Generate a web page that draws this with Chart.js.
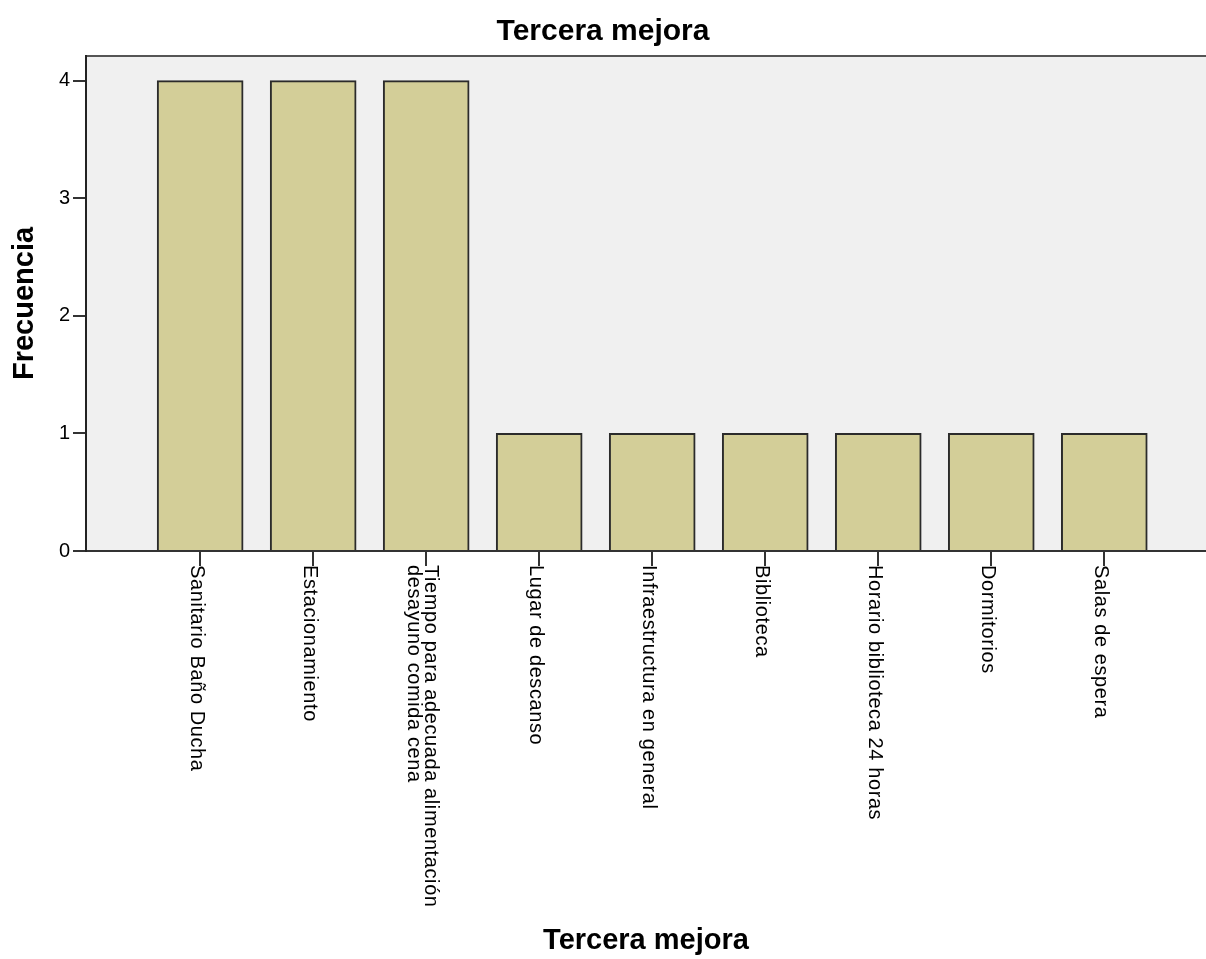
<!DOCTYPE html>
<html>
<head>
<meta charset="utf-8">
<title>Tercera mejora</title>
<script src="https://cdn.jsdelivr.net/npm/chart.js@4/dist/chart.umd.min.js"></script>
<style>
  html, body { margin: 0; padding: 0; background: #fff; }
  canvas { display: block; }
</style>
</head>
<body>
<canvas id="chart" width="1206" height="959"></canvas>
<script>
const categories = [
    ['Sanitario Baño Ducha'],
    ['Estacionamiento'],
    ['Tiempo para adecuada alimentación', 'desayuno comida cena'],
    ['Lugar de descanso'],
    ['Infraestructura en general'],
    ['Biblioteca'],
    ['Horario biblioteca 24 horas'],
    ['Dormitorios'],
    ['Salas de espera']
];
const counts = [4, 4, 4, 1, 1, 1, 1, 1, 1];
const yTicks = [0, 1, 2, 3, 4];

const FONT = '"Liberation Sans", Arial, sans-serif';

// gray plot background + top frame line
const plotBackground = {
    id: 'plotBackground',
    beforeDraw(chart) {
        const { ctx, chartArea } = chart;
        ctx.save();
        ctx.fillStyle = '#f0f0f0';
        ctx.fillRect(chartArea.left, chartArea.top, chartArea.right - chartArea.left, chartArea.bottom - chartArea.top);
        ctx.strokeStyle = '#555';
        ctx.lineWidth = 2;
        ctx.beginPath();
        ctx.moveTo(chartArea.left, chartArea.top);
        ctx.lineTo(chartArea.right, chartArea.top);
        ctx.stroke();
        ctx.restore();
    }
};

// category names, rotated clockwise under each tick
const rotatedLabels = {
    id: 'rotatedLabels',
    afterDraw(chart) {
        const { ctx, chartArea } = chart;
        const xScale = chart.scales.x;
        ctx.save();
        ctx.fillStyle = '#000';
        ctx.font = '20px ' + FONT;
        ctx.letterSpacing = '0.6px';
        ctx.textAlign = 'left';
        ctx.textBaseline = 'middle';
        categories.forEach((lines, i) => {
            const x = xScale.getPixelForValue(i);
            ctx.save();
            ctx.translate(x, chartArea.bottom + 14);
            ctx.rotate(Math.PI / 2);
            lines.forEach((line, j) => {
                ctx.fillText(line, 0, 4 + (j - (lines.length - 1) / 2) * 17);
            });
            ctx.restore();
        });
        ctx.restore();
    }
};

new Chart(document.getElementById('chart'), {
    type: 'bar',
    data: {
        datasets: [{
            data: counts.map((v, i) => ({ x: i, y: v })),
            backgroundColor: '#d3ce98',
            borderColor: '#2b2b2b',
            borderWidth: 2,
            barThickness: 86
        }]
    },
    options: {
        responsive: false,
        animation: false,
        devicePixelRatio: 1,
        layout: { padding: 0 },
        plugins: {
            legend: { display: false },
            tooltip: { enabled: false },
            title: {
                display: true,
                text: 'Tercera mejora',
                color: '#000',
                font: { family: FONT, size: 30, weight: 'bold' },
                padding: { top: 14, bottom: 6 }
            }
        },
        scales: {
            x: {
                type: 'linear',
                offset: false,
                min: -1.01,
                max: 8.9,
                afterBuildTicks: s => { s.ticks = categories.map((_, i) => ({ value: i })); },
                afterFit: s => { s.height = 408; },
                ticks: { display: false },
                grid: {
                    offset: false,
                    drawOnChartArea: false,
                    drawTicks: true,
                    tickLength: 15,
                    color: '#333',
                    lineWidth: 2
                },
                border: { display: true, color: '#333', width: 2 },
                title: {
                    display: true,
                    text: 'Tercera mejora',
                    color: '#000',
                    font: { family: FONT, size: 29, weight: 'bold' },
                    padding: { top: 0, bottom: 1 }
                }
            },
            y: {
                min: 0,
                max: 4.21,
                afterBuildTicks: s => { s.ticks = yTicks.map(v => ({ value: v })); },
                afterFit: s => { s.width = 86; },
                ticks: {
                    color: '#000',
                    font: { family: FONT, size: 20 },
                    padding: 3
                },
                grid: {
                    drawOnChartArea: false,
                    drawTicks: true,
                    tickLength: 13,
                    color: '#333',
                    lineWidth: 2
                },
                border: { display: true, color: '#222', width: 2 },
                title: {
                    display: true,
                    text: 'Frecuencia',
                    color: '#000',
                    font: { family: FONT, size: 29, weight: 'bold' },
                    padding: { top: 8, bottom: 0 }
                }
            }
        }
    },
    plugins: [plotBackground, rotatedLabels]
});
</script>
</body>
</html>
